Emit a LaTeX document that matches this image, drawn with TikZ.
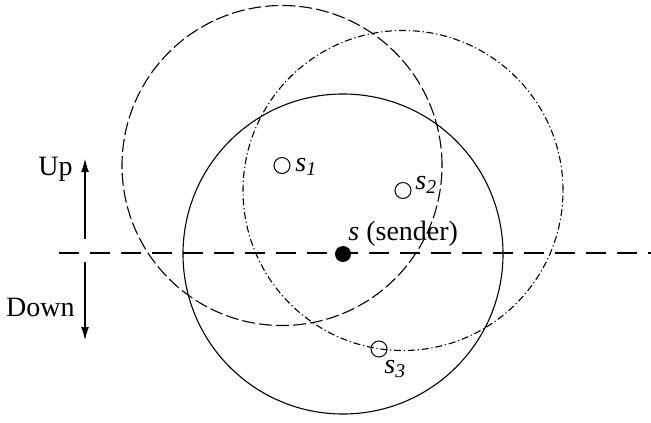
\documentclass[tikz,border=0pt]{standalone}
\usepackage{fontspec}
\setmainfont{Liberation Serif}
\usetikzlibrary{arrows.meta}
\begin{document}
\begin{tikzpicture}[x=0.5pt,y=-0.5pt,
  every node/.style={font=\fontsize{14pt}{16pt}\selectfont},
  rangecircle/.style={circle,draw,line width=0.55pt,minimum size=160pt,inner sep=0pt,outer sep=0pt},
  dashrange/.style={rangecircle,dash pattern=on 6.5pt off 2pt},
  dotrange/.style={rangecircle,dash pattern=on 3.5pt off 1.4pt on 0.6pt off 1.4pt},
  smallnode/.style={circle,draw,line width=0.5pt,minimum size=8pt,inner sep=0pt},
  sendernode/.style={circle,fill=black,minimum size=8pt,inner sep=0pt},
  lbl/.style={inner sep=0pt},
  axisline/.style={line width=0.55pt,dash pattern=on 10pt off 5.5pt},
  dirarrow/.style={line width=0.55pt,-{Latex[length=6.5pt,width=4pt]}}
]
\useasboundingbox (0,0) rectangle (651,422);
% horizontal reference line
\coordinate (hl) at (59,253);
\coordinate (hr) at (651,253);
\draw[axisline] (hl) -- (hr);
% nodes
\node[sendernode] (s) at (343,254) {};
\node[smallnode] (s1) at (282,165.5) {};
\node[smallnode] (s2) at (403,190.5) {};
\node[smallnode] (s3) at (379,349) {};
% ranges
\node[rangecircle] (Cs) at (s) {};
\node[dashrange] (C1) at (s1) {};
\node[dotrange] (C2) at (s2) {};
% labels
\node[lbl,anchor=base west] (ls) at (348,240) {\textit{s} (sender)};
\node[lbl,anchor=base west] (ls1) at (295,171) {\textit{s}\textsubscript{\textit{1}}};
\node[lbl,anchor=base west] (ls2) at (415,189) {\textit{s}\textsubscript{\textit{2}}};
\node[lbl,anchor=base west] (ls3) at (384,373) {\textit{s}\textsubscript{\textit{3}}};
% up / down
\coordinate (ub) at (85,239);
\coordinate (ut) at (85,159);
\coordinate (db) at (85,262);
\coordinate (dt) at (85,340);
\draw[dirarrow] (ub) -- (ut);
\draw[dirarrow] (db) -- (dt);
\node[lbl,anchor=base east] (up) at (73,176) {Up};
\node[lbl,anchor=base east] (down) at (75,316) {Down};
\end{tikzpicture}
\end{document}
